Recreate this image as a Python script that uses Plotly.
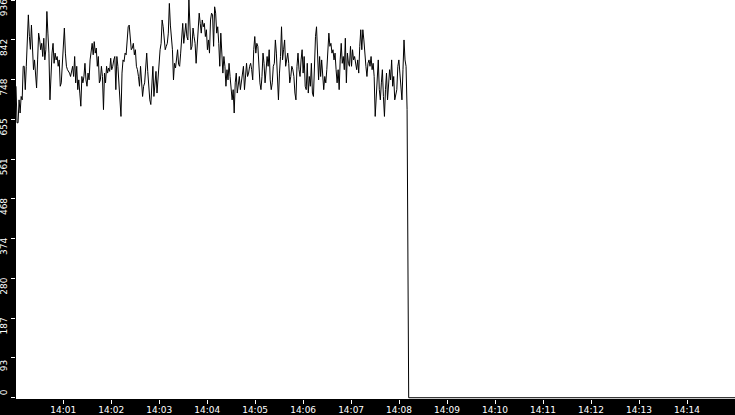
import pandas as pd
import plotly.graph_objects as go

# readings (roughly one sample per pixel of the original trace)
seg_1 = [733, 647, 647, 701, 670, 709, 701, 780, 780, 725, 780, 827, 901, 850, 820, 877,
         819, 772, 795, 748, 729, 795, 858, 842, 819, 834, 803, 846, 795, 819, 909, 858,
         811, 701, 780, 811, 834, 787, 811, 795, 803, 780, 795, 733, 741, 780, 811, 870,
         811, 780, 772, 768, 764, 756, 772, 780, 756, 803, 741, 780, 725, 748, 717, 686,
         756, 741, 756, 787, 748, 733, 764, 748, 795, 811, 834, 807, 838, 811, 823, 780,
         803, 741, 748, 780, 756, 678, 764, 741, 780, 764, 776, 768, 799, 772, 780, 795,
         803]
seg_2 = [725, 803, 780, 741, 686, 662, 764, 795, 791, 811, 807, 834, 873, 877, 850, 819,
         823, 834, 807, 819, 780, 772, 756, 733, 780, 748, 709, 733, 741, 776, 811, 768,
         717, 701, 690, 748, 780, 709, 741, 768, 717, 760, 791, 819, 834, 889, 873, 846,
         819, 827, 834, 858, 928, 877, 842, 819, 748, 787, 776, 795, 819, 784, 780, 811,
         858, 881, 834, 854, 881, 850, 842, 936, 850, 819, 827, 870, 850, 834, 787, 834,
         850, 905, 881, 858, 889, 873, 881, 850, 866, 819, 842, 811, 889, 905, 901, 827]
seg_3 = [920, 905, 858, 873, 834, 780, 858, 819, 764, 803, 780, 733, 772, 748, 787, 756,
         717, 701, 725, 670, 741, 764, 717, 741, 756, 725, 748, 756, 780, 725, 772, 787,
         756, 764, 780, 787, 772, 748, 819, 850, 811, 834, 827, 780, 741, 725, 756, 811,
         787, 741, 772, 803, 780, 819, 748, 725, 741, 780, 787, 842, 811, 748, 701, 764,
         803, 873, 795, 819, 842, 780, 795, 811, 787, 741, 756, 780, 772, 756, 717, 701,
         780, 811, 772, 756, 795, 819, 764, 803]
seg_4 = [733, 725, 787, 717, 756, 733, 787, 717, 709, 795, 850, 873, 827, 748, 803, 756,
         795, 748, 725, 756, 741, 772, 819, 858, 827, 834, 811, 819, 795, 811, 772, 741,
         772, 725, 795, 834, 787, 803, 772, 846, 741, 811, 787, 780, 827, 780, 819, 795,
         803, 787, 772, 795, 764, 827, 866, 819, 866, 842, 795, 780, 756, 787, 795, 780,
         803, 772, 787, 756, 662, 701, 748, 795, 725, 701, 741, 772, 709, 662, 725, 764,
         701, 733, 772, 748, 795, 733, 756, 701, 717, 725, 780, 795, 764, 725, 701, 772,
         842, 795, 780, 678]
# after the signal is lost
tail_times = ["2024-01-01 14:08:11", "2024-01-01 14:08:12", "2024-01-01 14:15:00"]
tail_values = [326, 0, 0]

start_time = "2024-01-01 14:00:01"
end_time = "2024-01-01 14:08:10"

y_ticks = ["0", "93", "187", "280", "374", "468", "561", "655", "748", "842", "936"]
x_ticks = ["14:01", "14:02", "14:03", "14:04", "14:05", "14:06", "14:07",
           "14:08", "14:09", "14:10", "14:11", "14:12", "14:13", "14:14"]

values = seg_1 + seg_2 + seg_3 + seg_4
times = pd.date_range(start_time, end_time, periods=len(values))
data = pd.DataFrame({"value": values}, index=times)
tail = pd.DataFrame({"value": tail_values}, index=pd.to_datetime(tail_times))
data = pd.concat([data, tail])

fig = go.Figure()
fig.add_trace(go.Scatter(x=data.index, y=data["value"], mode="lines",
                         line=dict(color="black", width=1), hoverinfo="skip"))
# empty trace so the second y axis (only carrying the "0" label) gets drawn
fig.add_trace(go.Scatter(x=[], y=[], yaxis="y2", hoverinfo="skip"))

ymax = 936
ytickvals = [i * ymax / 10 for i in range(len(y_ticks))]

fig.update_layout(
    width=735, height=415,
    margin=dict(l=16, r=0, t=0, b=16),
    paper_bgcolor="black", plot_bgcolor="white",
    showlegend=False,
    font=dict(family="DejaVu Sans", size=9, color="white"),
    xaxis=dict(
        range=["2024-01-01 14:00:01", "2024-01-01 14:15:00"],
        tickvals=pd.to_datetime(["2024-01-01 " + t for t in x_ticks]),
        ticktext=x_ticks,
        ticks="outside", ticklen=4, tickcolor="white", tickwidth=1,
        ticklabelstandoff=-2,
        showgrid=False, zeroline=False, showline=False, automargin=False,
    ),
    # labels hang just below their tick, except the 0 which sits above it
    yaxis=dict(
        range=[-3, ymax],
        tickvals=ytickvals[1:],
        ticktext=y_ticks[1:],
        tickangle=-90,
        ticklabelshift=9,
        ticklabeloverflow="allow",
        ticks="outside", ticklen=4, tickcolor="white", tickwidth=1,
        showgrid=False, zeroline=False, showline=False, automargin=False,
    ),
    yaxis2=dict(
        overlaying="y", side="left",
        range=[-3, ymax],
        tickvals=ytickvals[:1],
        ticktext=y_ticks[:1],
        tickangle=-90,
        ticklabelshift=-4,
        ticklabeloverflow="allow",
        ticks="outside", ticklen=4, tickcolor="white", tickwidth=1,
        showgrid=False, zeroline=False, showline=False, automargin=False,
    ),
)

# the page has a default body margin; drop it so the chart fills the window
fig.write_html("out.html", config={"displayModeBar": False},
               post_script="document.body.style.margin = '0';")
